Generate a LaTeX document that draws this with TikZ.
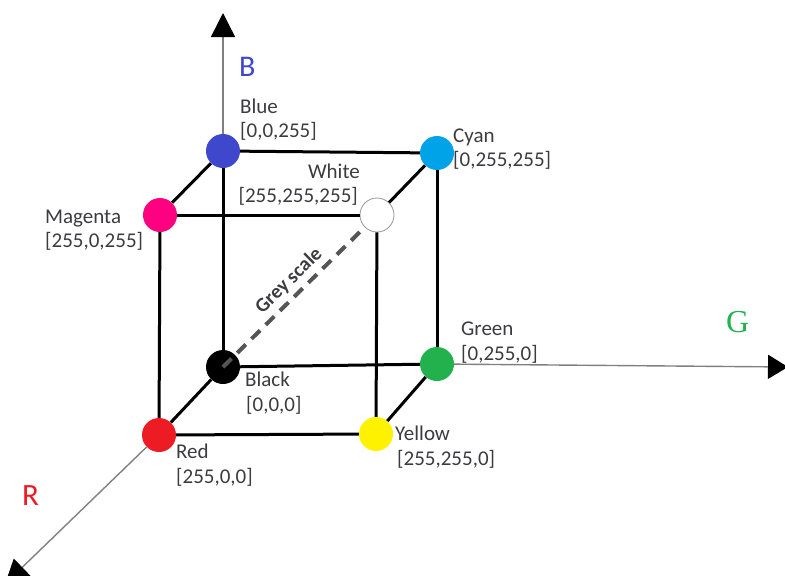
\documentclass[tikz,border=0pt]{standalone}
\usepackage{fontspec}
\setmainfont{Carlito}
\newfontfamily\serifG{Liberation Serif}
\usetikzlibrary{arrows.meta}
\definecolor{cBlue}{RGB}{63,72,204}
\definecolor{cCyan}{RGB}{0,162,232}
\definecolor{cMag}{RGB}{255,0,128}
\definecolor{cGreen}{RGB}{34,177,76}
\definecolor{cRed}{RGB}{237,28,36}
\definecolor{cYellow}{RGB}{255,242,0}
\definecolor{txt}{RGB}{60,60,64}
\definecolor{axisgray}{RGB}{128,128,128}
\definecolor{dashgray}{RGB}{85,85,85}
\begin{document}
\begin{tikzpicture}[x=1pt,y=-1pt,
  dot/.style={circle, minimum size=34pt, inner sep=0pt, fill=#1},
  edge/.style={line width=3pt, black},
  axisline/.style={line width=1.4pt, axisgray},
  lbl/.style={font=\fontsize{21}{25}\selectfont, text=txt, inner sep=0pt, anchor=base west},
  lblr/.style={lbl, anchor=base east},
  big/.style={inner sep=0pt, anchor=base west}]
\useasboundingbox (0,0) rectangle (785,576);
\clip (0,0) rectangle (785,576);
% axis tips
\coordinate (Btip) at (223,13);
\coordinate (Gtip) at (788,367);
\coordinate (Rtip) at (5,584);
% dots
\node[dot=black] (black) at (223,367) {};
\node[dot=cGreen] (green) at (437,364) {};
\node[dot=cBlue] (blue) at (223,151) {};
\node[dot=cCyan] (cyan) at (437,153) {};
\node[dot=cRed] (red) at (159,435) {};
\node[dot=cYellow] (yellow) at (376,434) {};
\node[dot=cMag] (magenta) at (160,215) {};
\node[dot=white, draw={rgb,255:red,150;green,150;blue,150}, line width=0.8pt] (white) at (377,215) {};
% axes
\draw[axisline, -{Triangle[length=24pt,width=24pt,color=black]}] (blue) -- (Btip);
\draw[axisline, -{Triangle[length=20pt,width=24pt,color=black]}] (green) -- (Gtip);
\draw[axisline, -{Triangle[length=24pt,width=24pt,color=black]}] (red) -- (Rtip);
% cube edges
\draw[edge] (blue) -- (cyan);
\draw[edge] (blue) -- (magenta);
\draw[edge] (blue) -- (black);
\draw[edge] (cyan) -- (white);
\draw[edge] (cyan) -- (green);
\draw[edge] (magenta) -- (white);
\draw[edge] (magenta) -- (red);
\draw[edge] (white) -- (yellow);
\draw[edge] (black) -- (green);
\draw[edge] (black) -- (red);
\draw[edge] (red) -- (yellow);
\draw[edge] (yellow) -- (green);
% grey scale diagonal
\draw[line width=4pt, dashgray, dash pattern=on 12pt off 8pt] (black.center) -- (white);
\node[font=\bfseries\fontsize{20}{20}\selectfont, text=txt, rotate=44.5, inner sep=0pt] (grey) at (289,281) {Grey scale};
% axis letters
\node[big, font=\fontsize{30}{30}\selectfont, text=cBlue] (Blab) at (239,76) {B};
\node[big, font=\serifG\fontsize{32}{32}\selectfont, text=cGreen] (Glab) at (726,332) {G};
\node[big, font=\fontsize{31}{31}\selectfont, text=cRed] (Rlab) at (22,505) {R};
% labels
\node[lbl] (l1a) at (240,113) {Blue};
\node[lbl] (l1b) at (240,137) {[0,0,255]};
\node[lbl] (l2a) at (453,142) {Cyan};
\node[lbl] (l2b) at (453,166) {[0,255,255]};
\node[lblr] (l3a) at (360,178) {White};
\node[lblr] (l3b) at (358,202) {[255,255,255]};
\node[lbl] (l4a) at (45,223) {Magenta};
\node[lbl] (l4b) at (45,247) {[255,0,255]};
\node[lbl] (l5a) at (461,335) {Green};
\node[lbl] (l5b) at (461,360) {[0,255,0]};
\node[lbl] (l6a) at (245,386) {Black};
\node[lbl] (l6b) at (246,411) {[0,0,0]};
\node[lbl] (l7a) at (176,458) {Red};
\node[lbl] (l7b) at (176,483) {[255,0,0]};
\node[lbl] (l8a) at (395,440) {Yellow};
\node[lbl] (l8b) at (397,465) {[255,255,0]};
\end{tikzpicture}
\end{document}
